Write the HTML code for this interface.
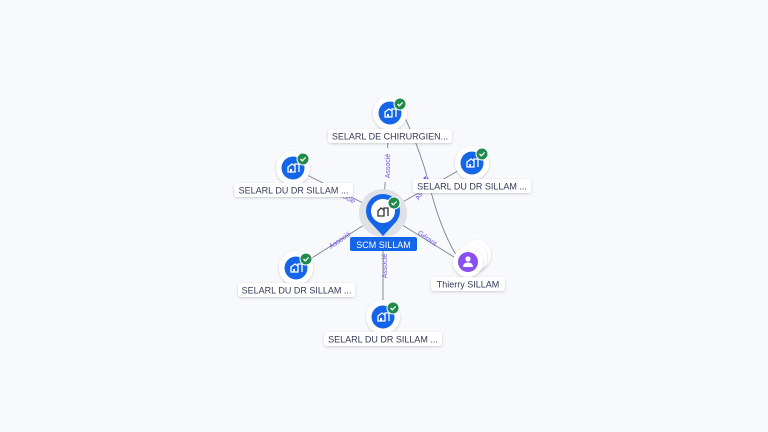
<!DOCTYPE html>
<html><head><meta charset="utf-8"><style>
html,body{margin:0;padding:0;background:#f8f9fc;}
svg{display:block;font-family:"Liberation Sans",sans-serif;}
</style></head><body>
<svg width="768" height="432" viewBox="0 0 768 432">
<defs>
<filter id="sh" x="-30%" y="-30%" width="160%" height="160%"><feDropShadow dx="0" dy="1" stdDeviation="1.2" flood-color="#000" flood-opacity="0.18"/></filter>
<g id="bld"><path d="M-5 4 V-1 L-1 -4 L2 -2 V4 Z M2 4 V-4 H6 V4" fill="none" stroke="#fff" stroke-width="1.3"/><rect x="-3" y="1" width="2" height="3" fill="#fff"/></g>
<g id="node">
<circle r="17" fill="#fff" filter="url(#sh)"/>
<circle r="11.5" fill="#1565e8"/>
<use href="#bld"/>
<circle cx="10" cy="-9" r="6.5" fill="#fff"/>
<circle cx="10" cy="-9" r="5.5" fill="#1f8a4c"/>
<path d="M7.5 -9 L9.3 -7.2 L12.6 -10.6" fill="none" stroke="#fff" stroke-width="1.3"/>
</g>
</defs>
<g stroke="#7c8190" stroke-width="0.9" fill="none">
<line x1="383" y1="213" x2="390" y2="113"/>
<line x1="383" y1="213" x2="293" y2="168"/>
<line x1="383" y1="213" x2="472" y2="163"/>
<line x1="383" y1="213" x2="296" y2="268"/>
<line x1="383" y1="213" x2="383" y2="317"/>
<line x1="383" y1="213" x2="462" y2="262"/>
<path d="M405 118 Q420 150 428 180 Q440 230 458 258"/>
</g>
<g fill="#7a5cf0">
<path d="M385 194 l2 3 l-4 0z"/>
<path d="M365 199 l3 2 l-3 2z"/>
<path d="M399 202 l-3 2 l3 2z"/>
<path d="M365 228 l3 -2 l0 4z"/>
<path d="M398 226 l-3 -1 l2 3z"/>
<path d="M426 176 l-3 2 l3 2z"/>
</g>
<g font-size="7" fill="#6a58e8">
<rect x="383" y="148" width="10" height="34" fill="#f8f9fc"/>
<text transform="translate(390,166) rotate(-90)" text-anchor="middle">Associé</text>
<text transform="translate(343,198) rotate(28)" text-anchor="middle">Associé</text>
<text transform="translate(425,190) rotate(-60)" text-anchor="middle">Associé</text>
<text transform="translate(341,242) rotate(-35)" text-anchor="middle">Associé</text>
<text transform="translate(387,266) rotate(-90)" text-anchor="middle">Associé</text>
<text transform="translate(426,240) rotate(35)" text-anchor="middle">Gérant</text>
</g>
<circle cx="383" cy="213" r="24" fill="#dfe1e6"/>
<path d="M383 236 L371 223 A17 17 0 1 1 395 223 Z" fill="#1565e8"/>
<circle cx="383" cy="211" r="12" fill="#fff"/>
<path d="M378 216 V211 L381 208 L384 210 V216 Z M384 216 V208 H388 V216" fill="none" stroke="#333" stroke-width="1.3"/>
<circle cx="394" cy="203" r="6.5" fill="#fff"/>
<circle cx="394" cy="203" r="5.5" fill="#1f8a4c"/>
<path d="M391.5 203 L393.3 204.8 L396.6 201.4" fill="none" stroke="#fff" stroke-width="1.3"/>
<rect x="350" y="237" width="67" height="14" rx="2" fill="#1565e8"/>
<text x="383.5" y="248" font-size="9" fill="#fff" text-anchor="middle">SCM SILLAM</text>
<use href="#node" x="390" y="113"/>
<use href="#node" x="293" y="168"/>
<use href="#node" x="472" y="163"/>
<use href="#node" x="296" y="268"/>
<use href="#node" x="383" y="317"/>
<circle cx="476" cy="255" r="15" fill="#fff" filter="url(#sh)"/>
<circle cx="472" cy="258" r="15" fill="#fff" filter="url(#sh)"/>
<circle cx="468" cy="262" r="15" fill="#fff" filter="url(#sh)"/>
<circle cx="468" cy="262" r="10" fill="#8a4ff0"/>
<circle cx="468" cy="259" r="2.6" fill="#fff"/>
<path d="M463 267 Q463 262.5 468 262.5 Q473 262.5 473 267 Z" fill="#fff"/>
<g font-size="9" fill="#333a55" text-anchor="middle">
<rect x="328" y="129" width="124" height="14" rx="3" fill="#fff" filter="url(#sh)"/>
<text x="390" y="139.5">SELARL DE CHIRURGIEN...</text>
<rect x="234" y="183" width="119" height="14" rx="3" fill="#fff" filter="url(#sh)"/>
<text x="293.5" y="193.5">SELARL DU DR SILLAM ...</text>
<rect x="413" y="179" width="118" height="14" rx="3" fill="#fff" filter="url(#sh)"/>
<text x="472" y="189.5">SELARL DU DR SILLAM ...</text>
<rect x="238" y="283" width="117" height="14" rx="3" fill="#fff" filter="url(#sh)"/>
<text x="296.5" y="293.5">SELARL DU DR SILLAM ...</text>
<rect x="324" y="332" width="118" height="14" rx="3" fill="#fff" filter="url(#sh)"/>
<text x="383" y="342.5">SELARL DU DR SILLAM ...</text>
<rect x="431" y="277" width="74" height="14" rx="3" fill="#fff" filter="url(#sh)"/>
<text x="468" y="287.5">Thierry SILLAM</text>
</g>
</svg>
</body></html>
